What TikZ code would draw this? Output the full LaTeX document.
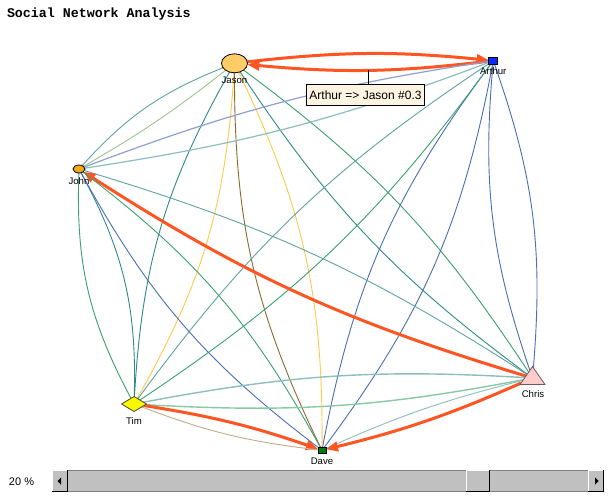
\documentclass[tikz,border=0pt]{standalone}
\usepackage{fontspec}
\setmainfont{Liberation Sans}
\newfontfamily\titlefont{Liberation Mono}
\usetikzlibrary{arrows.meta,shapes.geometric,backgrounds}

\definecolor{netred}{HTML}{FF5522}
\definecolor{cteal}{HTML}{5FA3A3}
\definecolor{cltteal}{HTML}{8DBDBD}
\definecolor{cdteal}{HTML}{2F8A88}
\definecolor{cgreen}{HTML}{3AA070}
\definecolor{cltgreen}{HTML}{88C8A4}
\definecolor{colive}{HTML}{9CC48A}
\definecolor{cyellow}{HTML}{FFC94A}
\definecolor{cbrown}{HTML}{8B6A30}
\definecolor{cblue}{HTML}{4A6FB3}
\definecolor{cbgrey}{HTML}{8FA0D0}
\definecolor{ctan}{HTML}{C4AA88}
\definecolor{tipbg}{HTML}{FCF4E0}
\definecolor{sbface}{HTML}{C0C0C0}
\definecolor{sbshade}{HTML}{808080}
\definecolor{jasonfill}{HTML}{FFCC66}
\definecolor{johnfill}{HTML}{F2A81E}
\definecolor{arthurfill}{HTML}{0A28FF}
\definecolor{davefill}{HTML}{007A10}
\definecolor{chrisfill}{HTML}{FFCCCC}
\definecolor{chrisline}{HTML}{6E5A5A}
\definecolor{timfill}{HTML}{F8F800}

\begin{document}
\begin{tikzpicture}[x=1pt,y=-1pt,
  every node/.style={inner sep=0pt, outer sep=0pt},
  lbl/.style={font=\fontsize{9.6}{10}\selectfont, text=black},
  thinedge/.style={line width=0.9pt},
  hot/.style={line width=3pt, draw=netred},
  hottip/.style={-{Triangle[length=12pt,width=9.5pt]}},
  jasonshape/.style={ellipse, draw=black, line width=0.8pt, fill=jasonfill, minimum width=26pt, minimum height=19pt},
  arthurshape/.style={rectangle, draw=black, line width=0.8pt, fill=arthurfill, minimum width=9pt, minimum height=7pt},
  johnshape/.style={ellipse, draw=black, line width=0.8pt, fill=johnfill, minimum width=12pt, minimum height=8pt},
  chrisshape/.style={isosceles triangle, shape border rotate=90, isosceles triangle apex angle=70,
     isosceles triangle stretches, minimum width=25pt, minimum height=18pt, draw=chrisline, line width=0.8pt, fill=chrisfill},
  timshape/.style={diamond, aspect=1.67, minimum width=25pt, minimum height=15pt, draw=black!80!yellow, line width=0.8pt, fill=timfill},
  daveshape/.style={rectangle, draw=black, line width=0.8pt, fill=davefill, minimum width=8pt, minimum height=6pt},
]
\useasboundingbox (0,0) rectangle (608,498);
\begin{scope}[on background layer]
  \fill[white] (0,0) rectangle (608,498);
\end{scope}

% title
\node[anchor=base west, font=\fontsize{13.3}{14}\titlefont\bfseries] (title) at (7,17.6) {Social Network Analysis};

% actors
\node[jasonshape] (jason) at (234.5,63.3) {};
\node[arthurshape] (arthur) at (493.3,60.7) {};
\node[johnshape] (john) at (79,169) {};
\node[chrisshape] (chris) at (532.5,378) {};
\node[timshape] (tim) at (134,404) {};
\node[daveshape] (dave) at (322,450.3) {};

% ties, drawn behind the actors
\begin{scope}[on background layer]
  % Jason - Arthur
  \draw[hot,hottip] (jason) to[bend left=6] (arthur);
  \draw[hot,hottip] (arthur) to[bend left=6] coordinate[pos=0.5] (tipanchor) (jason);
  % Jason - John
  \draw[thinedge, cteal] (john) to[bend left=13] (jason);
  \draw[thinedge, colive] (jason) to[bend left=4] (john);
  % Jason - Tim
  \draw[thinedge, cyellow] (jason) to[bend left=13] (tim);
  \draw[thinedge, cdteal] (tim) to[bend left=13] (jason);
  % Jason - Dave
  \draw[thinedge, cyellow] (jason) to[bend left=13] (dave);
  \draw[thinedge, cbrown] (dave) to[bend left=13] (jason);
  % Jason - Chris
  \draw[thinedge, cgreen] (jason) to[bend left=10] (chris);
  \draw[thinedge, cdteal] (chris) to[bend left=10] (jason);
  % Arthur - John
  \draw[thinedge, cltteal, line width=1.2pt] (arthur) to[bend left=6] (john);
  \draw[thinedge, cbgrey, line width=1.2pt] (john) to[bend left=6] (arthur);
  % Arthur - Chris
  \draw[thinedge, cblue] (arthur) to[bend left=12] (chris);
  \draw[thinedge, cblue] (chris) to[bend left=12] (arthur);
  % Arthur - Dave
  \draw[thinedge, cblue] (arthur) to[bend left=13] (dave);
  \draw[thinedge, cblue] (dave) to[bend left=13] (arthur);
  % Arthur - Tim
  \draw[thinedge, cgreen] (arthur) to[bend left=10] (tim);
  \draw[thinedge, cteal] (tim) to[bend left=10] (arthur);
  % John - Chris
  \draw[thinedge, cteal] (john) to[bend left=8] (chris);
  \draw[hot,hottip] (chris) to[bend left=8] (john);
  % John - Tim
  \draw[thinedge, cdteal] (john) to[bend left=15] (tim);
  \draw[thinedge, cgreen] (tim) to[bend left=15] (john);
  % John - Dave
  \draw[thinedge, cgreen] (john) to[bend left=12] (dave);
  \draw[thinedge, cblue] (dave) to[bend left=12] (john);
  % Tim - Chris
  \draw[thinedge, cltteal, line width=1.4pt] (tim) to[bend left=7] (chris);
  \draw[thinedge, cltgreen, line width=1.4pt] (chris) to[bend left=7] (tim);
  % Tim - Dave
  \draw[hot,hottip] (tim) to[bend left=5] (dave);
  \draw[thinedge, ctan] (dave) to[bend left=7] (tim);
  % Dave - Chris
  \draw[thinedge, cltteal] (dave) to[bend left=5] (chris);
  \draw[hot,hottip] (chris) to[bend left=5] (dave);
\end{scope}

% actor names
\node[lbl] (jasonlbl) at (234.5,80) {Jason};
\node[lbl] (arthurlbl) at (493.3,71) {Arthur};
\node[lbl] (johnlbl) at (79,181.5) {John};
\node[lbl] (chrislbl) at (533,394.5) {Chris};
\node[lbl] (timlbl) at (134,421) {Tim};
\node[lbl] (davelbl) at (322,461.5) {Dave};

% hover tooltip
\node[draw=black, fill=tipbg, line width=0.8pt, minimum width=117.6pt, minimum height=21.4pt,
      font=\fontsize{12}{12}\selectfont] (tooltip) at (365.5,95) {Arthur => Jason \#0.3};
\draw[line width=0.8pt] (tipanchor) -- (tipanchor |- tooltip.north);

% zoom readout and scroll bar
\node[anchor=west, font=\fontsize{11}{11}\selectfont] (zoomlbl) at (9,481.5) {20 \%};
\fill[sbface] (52,470) rectangle (604,492);
\draw[sbshade, line width=0.8pt] (52,470.4) -- (604,470.4);
\draw[sbshade, line width=0.8pt] (52,491.6) -- (604,491.6);
% left button
\fill[sbface] (52,470) rectangle (68,492);
\draw[white, line width=0.8pt] (52.4,491.6) -- (52.4,470.4) -- (67.6,470.4);
\draw[black, line width=0.8pt] (52.4,491.6) -- (67.6,491.6) -- (67.6,470.4);
\fill[black] (57.5,481) -- (61,477.5) -- (61,484.5) -- cycle;
% thumb
\fill[sbface] (466,470) rectangle (490,492);
\draw[white, line width=0.8pt] (466.4,491.6) -- (466.4,470.4) -- (489.6,470.4);
\draw[black, line width=0.8pt] (466.4,491.6) -- (489.6,491.6) -- (489.6,470.4);
% right button
\fill[sbface] (588,470) rectangle (604,492);
\draw[white, line width=0.8pt] (588.4,491.6) -- (588.4,470.4) -- (603.6,470.4);
\draw[black, line width=0.8pt] (588.4,491.6) -- (603.6,491.6) -- (603.6,470.4);
\fill[black] (598.5,481) -- (595,477.5) -- (595,484.5) -- cycle;
\end{tikzpicture}
\end{document}
